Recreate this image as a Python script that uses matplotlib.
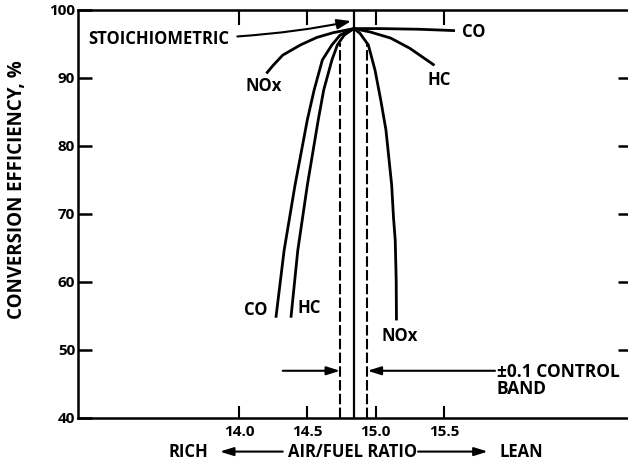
import matplotlib.pyplot as plt

plt.rcParams['font.family'] = ['Open Sans', 'DejaVu Sans']
plt.rcParams['font.weight'] = 'bold'

# air/fuel ratio and conversion efficiency (%)
co_rich_x = [14.27, 14.33, 14.41, 14.50, 14.55, 14.61, 14.68, 14.74, 14.84]
co_rich_y = [54.7, 64.6, 74.2, 83.8, 88.2, 92.6, 94.8, 96.25, 97.2]
hc_rich_x = [14.38, 14.43, 14.50, 14.58, 14.62, 14.68, 14.72, 14.77, 14.84]
hc_rich_y = [54.7, 64.6, 74.2, 83.8, 88.2, 92.6, 94.8, 96.25, 97.2]
nox_rich_x = [14.20, 14.25, 14.32, 14.45, 14.57, 14.69, 14.84]
nox_rich_y = [90.6, 91.8, 93.3, 94.8, 95.9, 96.6, 97.2]

co_lean_x = [14.84, 15.03, 15.32, 15.58]
co_lean_y = [97.2, 97.2, 97.1, 96.9]
hc_lean_x = [14.84, 14.96, 15.11, 15.25, 15.43]
hc_lean_y = [97.2, 96.7, 95.8, 94.3, 91.8]
nox_lean_x = [14.84, 14.885, 14.946, 14.995, 15.037, 15.075, 15.117,
              15.130, 15.143, 15.150, 15.152]
nox_lean_y = [97.2, 96.5, 94.8, 91.1, 86.7, 82.3, 74.2, 69.5, 66.1,
              60.2, 54.3]

stoich = 14.84
band = 0.1

x_ticks = [14.0, 14.5, 15.0, 15.5]
x_tick_labels = ['14.0', '14.5', '15.0', '15.5']
y_ticks = [40, 50, 60, 70, 80, 90, 100]

fig = plt.figure(figsize=(6.28, 4.65), dpi=100)
ax = fig.add_axes([0.1242, 0.1017, 0.8758, 0.8778])
ax.set_xlim(12.822, 16.846)
ax.set_ylim(40, 100)

lw = 2.0
for xs, ys in [(co_rich_x, co_rich_y), (hc_rich_x, hc_rich_y),
               (nox_rich_x, nox_rich_y), (co_lean_x, co_lean_y),
               (hc_lean_x, hc_lean_y), (nox_lean_x, nox_lean_y)]:
    ax.plot(xs, ys, color='black', linewidth=lw, solid_capstyle='butt',
            solid_joinstyle='round')

# stoichiometric line and control band
ax.axvline(stoich, color='black', linewidth=1.6)
ax.vlines([stoich - band, stoich + band], 40, 95.1, color='black',
          linewidth=1.5, linestyles=[(0, (5, 1.6))])

# spines and ticks
for side in ['left', 'top', 'bottom']:
    ax.spines[side].set_linewidth(1.8)
ax.spines['right'].set_visible(False)
ax.set_xticks(x_ticks)
ax.set_xticklabels(x_tick_labels)
ax.set_yticks(y_ticks)
ax.tick_params(axis='x', direction='in', length=9, width=1.5, pad=5,
               labelsize=11)
ax.tick_params(axis='y', direction='in', length=10, width=1.8, pad=2,
               labelsize=11)

top = ax.secondary_xaxis('top')
top.set_xticks(x_ticks)
top.set_xticklabels([])
top.tick_params(direction='in', length=11, width=1.5)
top.spines['top'].set_visible(False)

right = ax.secondary_yaxis('right')
right.set_yticks([50, 60, 70, 80, 90])
right.set_yticklabels([])
right.tick_params(direction='in', length=7.5, width=1.8)
right.spines['right'].set_visible(False)

ax.set_ylabel('CONVERSION EFFICIENCY, %', fontsize=13.5, fontweight='bold')
ax.yaxis.set_label_coords(-0.092, 0.56)

fs = 12
ax.text(15.63, 96.7, 'CO', fontsize=fs, ha='left', va='center')
ax.text(15.463, 89.6, 'HC', fontsize=fs, ha='center', va='center')
ax.text(14.183, 88.75, 'NOx', fontsize=fs, ha='center', va='center')
ax.text(14.12, 55.9, 'CO', fontsize=fs, ha='center', va='center')
ax.text(14.516, 56.06, 'HC', fontsize=fs, ha='center', va='center')
ax.text(15.178, 51.98, 'NOx', fontsize=fs, ha='center', va='center')

ax.annotate('STOICHIOMETRIC', xy=(14.82, 98.3), xytext=(13.927, 95.66),
            fontsize=fs, ha='right', va='center',
            arrowprops=dict(arrowstyle='-|>,head_length=0.7,head_width=0.25',
                            color='black', lw=1.5, shrinkA=4, shrinkB=0,
                            connectionstyle='angle3,angleA=0,angleB=12'))

arrow_style = dict(arrowstyle='-|>,head_length=0.8,head_width=0.25',
                   color='black', lw=1.5, shrinkA=0, shrinkB=0)
ax.annotate('', xy=(stoich - band, 46.9), xytext=(14.32, 46.9),
            arrowprops=arrow_style)
ax.annotate('', xy=(stoich + band, 46.9), xytext=(15.873, 46.9),
            arrowprops=arrow_style)
ax.text(15.887, 45.46, '±0.1 CONTROL\nBAND', fontsize=12.5, ha='left',
        va='center', linespacing=0.95)

# bottom axis caption with direction arrows
trans = ax.get_xaxis_transform()
ax.text(13.627, -0.083, 'RICH', transform=trans, fontsize=fs,
        ha='center', va='center')
ax.text(14.834, -0.083, 'AIR/FUEL RATIO', transform=trans, fontsize=fs,
        ha='center', va='center')
ax.text(16.063, -0.083, 'LEAN', transform=trans, fontsize=fs,
        ha='center', va='center')
ax.annotate('', xy=(13.86, -0.083), xytext=(14.32, -0.083),
            xycoords=trans, textcoords=trans, arrowprops=arrow_style,
            annotation_clip=False)
ax.annotate('', xy=(15.82, -0.083), xytext=(15.31, -0.083),
            xycoords=trans, textcoords=trans, arrowprops=arrow_style,
            annotation_clip=False)

plt.savefig('out.png', dpi=100)
